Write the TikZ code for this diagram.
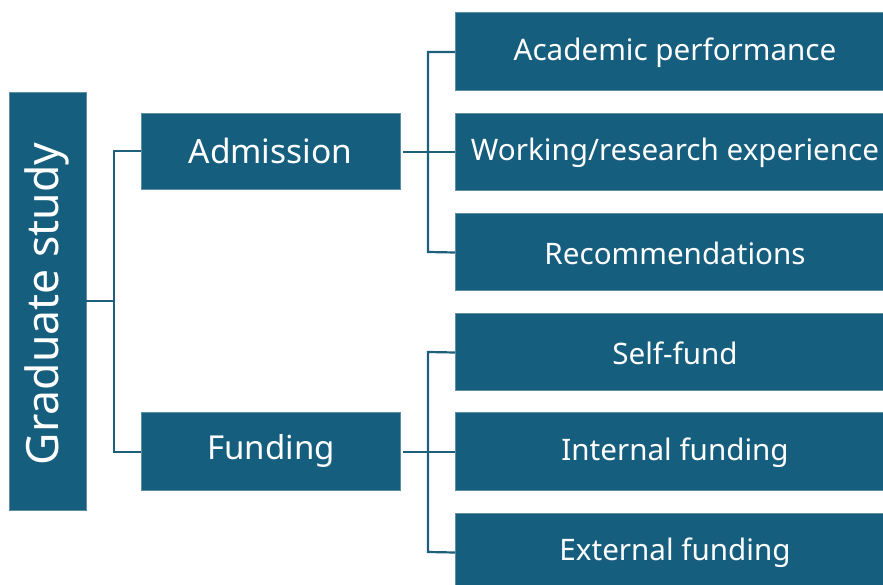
\documentclass[tikz,border=0pt]{standalone}
\usepackage{fontspec}
\setmainfont{Noto Sans}
\definecolor{boxblue}{RGB}{22,94,126}
\definecolor{linkblue}{RGB}{30,96,124}
\begin{document}
\begin{tikzpicture}[x=1pt,y=-1pt,
  box/.style={fill=boxblue,draw=boxblue!70!white,line width=0.8pt,text=white,inner sep=0pt},
  link/.style={draw=linkblue,line width=2.2pt}]
\useasboundingbox (0,0) rectangle (883,585);
\clip (0,0) rectangle (883,585);
\fill[white] (0,0) rectangle (883,585);
% root
\draw[box] (9.5,92.5) rectangle (86,510);
\node[rotate=90,font=\fontsize{44.5}{50}\selectfont,text=white] (gradtxt) at (47,304) {Graduate study};
\coordinate (grad) at (86,301);
% second level
\draw[box] (141,113) rectangle (400,189);
\node[font=\fontsize{33.5}{38}\selectfont,text=white] (admtxt) at (270.5,151) {Admission};
\coordinate (admL) at (141,151);
\coordinate (admR) at (403,152);
\draw[box] (141,412.5) rectangle (400,490);
\node[font=\fontsize{33}{38}\selectfont,text=white] (funtxt) at (271,451) {Funding};
\coordinate (funL) at (141,452);
\coordinate (funR) at (403,452);
% leaves
\foreach \n/\t/\y in {a/{Academic performance}/12.5, b/{Working/research experience}/113, c/{Recommendations}/213, d/{Self-fund}/313, e/{Internal funding}/412.5, f/{External funding}/513}{
  \draw[box] (455.5,\y) rectangle (895,\y+77.5);
  \node[font=\fontsize{29.6}{34}\selectfont,text=white] (\n) at (675,\y+40) {\t};
  \coordinate (\n L) at (455,\y+39.5);
}
% connectors
\draw[link] (grad) -- (114,301);
\draw[link] (admL) -- (114,151) -- (114,452) -- (funL);
\draw[link] (admR) -- (455,152);
\draw[link] (aL) -- (428,52) -- (428,252) -- (cL);
\draw[link] (funR) -- (455,452);
\draw[link] (dL) -- (428,352) -- (428,552) -- (fL);
\end{tikzpicture}
\end{document}
